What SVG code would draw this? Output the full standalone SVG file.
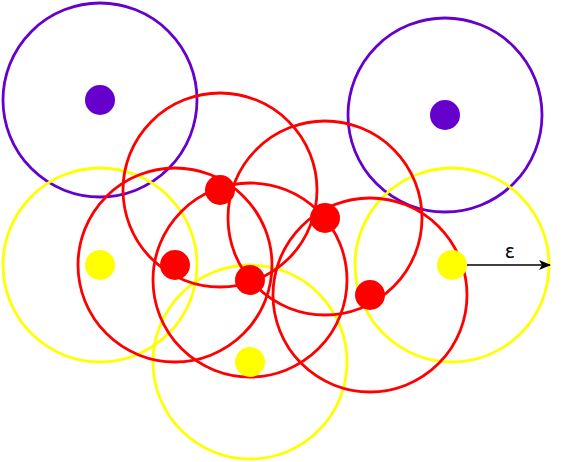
<svg xmlns="http://www.w3.org/2000/svg" width="564" height="462" viewBox="0 0 564 462">
<style>
.ring{fill:none;stroke-width:2.8}
.p{stroke:#6600CC}.r{stroke:#FF0000}.y{stroke:#FFFF00}
.dp{fill:#6600CC}.dr{fill:#FF0000}.dy{fill:#FFFF00}
.lbl{font-family:"DejaVu Sans",sans-serif;font-size:19px;fill:#000}
</style>
<defs>
<marker id="ah" markerWidth="12" markerHeight="12" refX="11" refY="6" orient="auto" markerUnits="userSpaceOnUse">
<path d="M0,1 L12,6 L0,11 L3,6 Z" fill="#000"/>
</marker>
</defs>
<rect width="564" height="462" fill="#fff"/>
<g id="noise1"><circle class="ring p" cx="100" cy="100" r="97"/></g>
<g id="noise2"><circle class="ring p" cx="445" cy="115" r="97"/></g>
<g id="border1"><circle class="ring y" cx="100" cy="265" r="97"/></g>
<g id="border2"><circle class="ring y" cx="452" cy="265" r="97"/></g>
<g id="border3"><circle class="ring y" cx="250" cy="362" r="97"/></g>
<g id="core1"><circle class="ring r" cx="220" cy="190" r="97"/></g>
<g id="core2"><circle class="ring r" cx="325" cy="218" r="97"/></g>
<g id="core3"><circle class="ring r" cx="175" cy="265" r="97"/></g>
<g id="core4"><circle class="ring r" cx="250" cy="280" r="97"/></g>
<g id="core5"><circle class="ring r" cx="370" cy="295" r="97"/></g>
<g id="connectors">
<line x1="467" y1="265" x2="550" y2="265" stroke="#000" stroke-width="1.5" marker-end="url(#ah)"/>
</g>
<g id="dots">
<circle class="dp" cx="100" cy="100" r="15"/>
<circle class="dp" cx="445" cy="115" r="15"/>
<circle class="dy" cx="100" cy="265" r="15"/>
<circle class="dy" cx="452" cy="265" r="15"/>
<circle class="dy" cx="250" cy="362" r="15"/>
<circle class="dr" cx="220" cy="190" r="15"/>
<circle class="dr" cx="325" cy="218" r="15"/>
<circle class="dr" cx="175" cy="265" r="15"/>
<circle class="dr" cx="250" cy="280" r="15"/>
<circle class="dr" cx="370" cy="295" r="15"/>
</g>
<g id="label"><text class="lbl" x="510" y="258" text-anchor="middle">ε</text></g>
</svg>
